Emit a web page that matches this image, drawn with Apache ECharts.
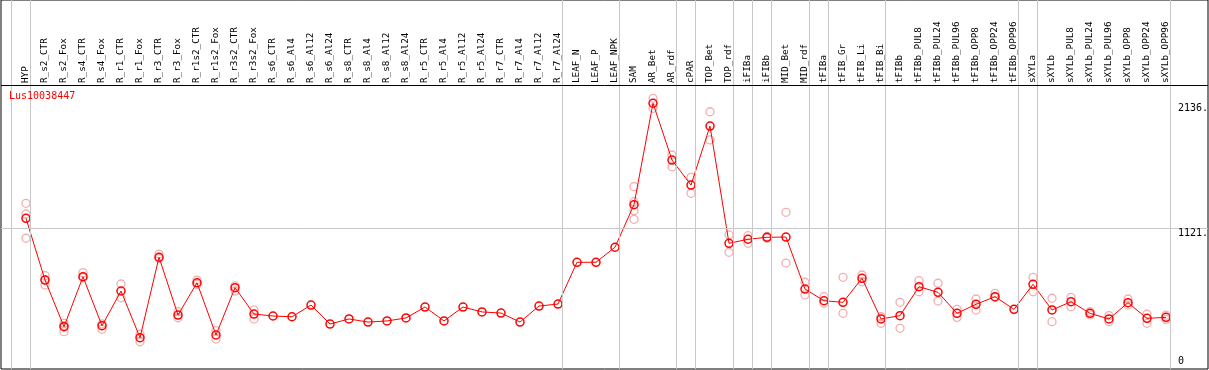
<!DOCTYPE html>
<html><head><meta charset="utf-8">
<script src="https://cdn.jsdelivr.net/npm/echarts@6/dist/echarts.min.js"></script>
<style>html,body{margin:0;padding:0;background:#fff}#c{width:1209px;height:370px}</style>
</head><body><div id="c"></div>
<script>
const geneName = 'Lus10038447';
const categories = ['HYP','R_s2_CTR','R_s2_Fox','R_s4_CTR','R_s4_Fox','R_r1_CTR','R_r1_Fox','R_r3_CTR','R_r3_Fox',
  'R_r1s2_CTR','R_r1s2_Fox','R_r3s2_CTR','R_r3s2_Fox','R_s6_CTR','R_s6_Al4','R_s6_Al12','R_s6_Al24',
  'R_s8_CTR','R_s8_Al4','R_s8_Al12','R_s8_Al24','R_r5_CTR','R_r5_Al4','R_r5_Al12','R_r5_Al24',
  'R_r7_CTR','R_r7_Al4','R_r7_Al12','R_r7_Al24','LEAF_N','LEAF_P','LEAF_NPK','SAM','AR_Bet','AR_rdf',
  'cPAR','TOP_Bet','TOP_rdf','iFIBa','iFIBb','MID_Bet','MID_rdf','tFIBa','tFIB_Gr','tFIB_Li','tFIB_Bi',
  'tFIBb','tFIBb_PUL8','tFIBb_PUL24','tFIBb_PUL96','tFIBb_OPP8','tFIBb_OPP24','tFIBb_OPP96',
  'sXYLa','sXYLb','sXYLb_PUL8','sXYLb_PUL24','sXYLb_PUL96','sXYLb_OPP8','sXYLb_OPP24','sXYLb_OPP96'];
const means = [1202,701,322,728,330,612,233,886,417,
  679,255,639,425,409,403,498,344,
  385,360,369,393,482,369,482,442,
  433,360,490,506,845,845,967,1313,2136,1675,
  1472,1951,999,1032,1048,1050,628,533,520,715,385,
  412,647,601,431,504,566,463,
  666,458,525,431,385,517,390,398];
const replicates = [[1324,1237,1040],[736,705,661],[350,330,282],[761,720],[344,301],[669,557],[261,200],[912,877],[444,395],
  [701,666],[290,222],[653,612],[458,385],[],[],[],[],
  [],[],[],[],[],[],[],[],
  [],[],[],[],[],[],[],[1459,1337,1264,1194],[2176,2095],[1716,1621],
  [1535,1405],[2067,1838],[1067,926],[1061,999],[1055,1041],[1251,839],[683,580],[566,512],[723,431],[742,688],[403,350],
  [520,309],[696,606],[675,531],[463,398],[547,458],[593,560],[],
  [723,606],[553,363],[561,485],[445,418],[412,363],[547,498],[425,350],[417,382]];
// index of the last category of each group (separator drawn after it); -1 = before first
const groupEnds = [-1,0,28,31,34,35,37,38,39,41,42,45,52,53,60];
const yTickValues = [0,1121,2136];
const yTickLabels = ['0','1121.','2136.'];
const yGridValues = [1121];

const N = categories.length;
const X_MIN = -25/19, X_MAX = X_MIN + 1207/19;
const Y_MIN = -21.1, Y_MAX = 2974;
const HEADER_LINE = 2280;
const MONO = 'DejaVu Sans Mono';

const repData = [];
replicates.forEach((arr,i)=>arr.forEach(v=>repData.push([i,v])));
const meanData = means.map((v,i)=>[i,v]);

const chart = echarts.init(document.getElementById('c'), null, {renderer:'canvas'});
const option = {
  animation:false,
  backgroundColor:'#fff',
  title:{text:geneName,left:9,top:91,padding:0,
    textStyle:{color:'#ff0000',fontSize:10,fontFamily:MONO,fontWeight:'normal'}},
  grid:[
    {left:1,right:1,top:0,bottom:1,show:true,borderColor:'#000',borderWidth:1,backgroundColor:'transparent',containLabel:false,outerBoundsMode:'none'},
    {left:16.5,width:N*19,top:0,height:85,containLabel:false,outerBoundsMode:'none'}
  ],
  xAxis:[
    {gridIndex:0,type:'value',min:X_MIN,max:X_MAX,show:false},
    {gridIndex:1,type:'category',data:categories,boundaryGap:true,position:'bottom',
      axisLine:{show:false},axisTick:{show:false},splitLine:{show:false},
      axisLabel:{inside:true,rotate:90,interval:0,margin:2,fontFamily:MONO,fontSize:9.3,color:'#000'}}
  ],
  yAxis:[
    {gridIndex:0,type:'value',min:Y_MIN,max:Y_MAX,show:false},
    {gridIndex:1,type:'value',show:false}
  ],
  series:[
    {type:'line',name:'lines',xAxisIndex:0,yAxisIndex:0,data:[],z:1,silent:true,
      markLine:{silent:true,symbol:['none','none'],label:{show:false},
        lineStyle:{color:'#c8c8c8',width:1,type:'solid'},
        emphasis:{disabled:true},
        data:[
          ...groupEnds.map(b=>({xAxis:b+0.2368})),
          ...yGridValues.map(v=>({yAxis:v})),
          {yAxis:HEADER_LINE,lineStyle:{color:'#000',width:1,type:'solid'}}
        ]}},
    {type:'line',name:'ylabels',xAxisIndex:0,yAxisIndex:0,data:[],z:1,silent:true,
      markLine:{silent:true,symbol:['none','none'],
        lineStyle:{color:'rgba(0,0,0,0)',width:1},
        emphasis:{disabled:true},
        data:yTickValues.map((v,k)=>[
          {coord:[X_MIN,v],label:{show:true,position:'end',distance:1,formatter:yTickLabels[k],align:'left',
            verticalAlign: v===0?'bottom':'top',fontFamily:MONO,fontSize:10,color:'#000'}},
          {coord:[N-1+0.58,v]}
        ])}},
    {type:'scatter',name:'replicates',xAxisIndex:0,yAxisIndex:0,data:repData,z:2,
      symbol:'circle',symbolSize:8,
      itemStyle:{color:'rgba(255,255,255,0)',borderColor:'#f09a9a',borderWidth:1.3}},
    {type:'line',name:'mean',xAxisIndex:0,yAxisIndex:0,data:meanData,z:3,
      symbol:'circle',symbolSize:8,showSymbol:true,
      lineStyle:{color:'#ff0000',width:1},
      itemStyle:{color:'rgba(255,255,255,0)',borderColor:'#ff0000',borderWidth:1.5}}
  ]
};
chart.setOption(option);
</script>
</body></html>
